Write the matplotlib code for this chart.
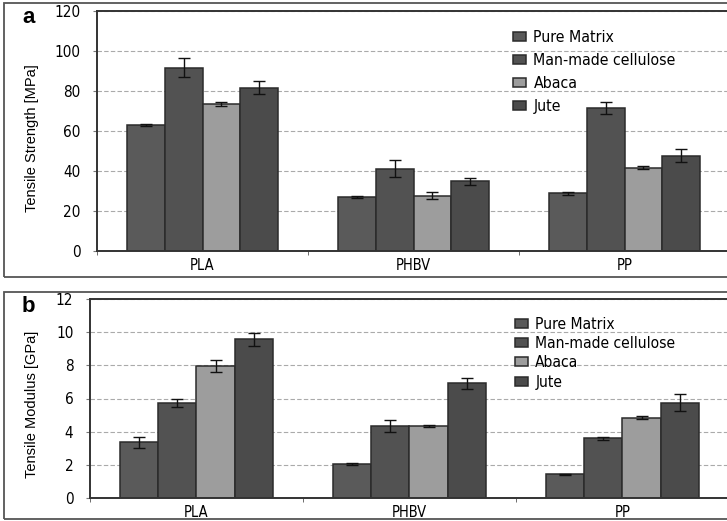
import matplotlib
matplotlib.use("Agg")
import matplotlib.pyplot as plt
from matplotlib import font_manager
import numpy as np
from matplotlib.patches import Rectangle

W, H = 727, 521

materials = ["PLA", "PHBV", "PP"]
series = ["Pure Matrix", "Man-made cellulose", "Abaca", "Jute"]

# tensile strength [MPa], one list per series (PLA, PHBV, PP)
strength_pure = [63.0, 26.8, 28.8]
strength_mmc = [91.6, 41.1, 71.4]
strength_abaca = [73.4, 27.6, 41.5]
strength_jute = [81.6, 34.8, 47.5]
strength_pure_err = [0.5, 0.5, 0.7]
strength_mmc_err = [4.8, 4.3, 2.8]
strength_abaca_err = [1.0, 1.6, 0.7]
strength_jute_err = [3.3, 1.7, 3.3]

# tensile modulus [GPa]
modulus_pure = [3.35, 2.04, 1.42]
modulus_mmc = [5.75, 4.35, 3.60]
modulus_abaca = [7.98, 4.35, 4.85]
modulus_jute = [9.56, 6.93, 5.75]
modulus_pure_err = [0.32, 0.07, 0.05]
modulus_mmc_err = [0.25, 0.37, 0.10]
modulus_abaca_err = [0.37, 0.05, 0.09]
modulus_jute_err = [0.39, 0.33, 0.51]

COLORS = ["#5a5a5a", "#525252", "#9d9d9d", "#4b4b4b"]
EDGE = "#2b2b2b"
WIDE = ["Liberation Sans", "DejaVu Sans"]

# the original uses a condensed sans for ticks and legend; use one if installed
NARROW, STRETCH = WIDE, "normal"
for f in font_manager.fontManager.ttflist:
    if "Narrow" in f.name and "Liberation" in f.name:
        NARROW, STRETCH = [f.name] + WIDE, "normal"
        break
    if f.name == "DejaVu Sans" and f.stretch == "condensed":
        NARROW, STRETCH = ["DejaVu Sans"], "condensed"


def px_axes(fig, left, right, top, bottom):
    return fig.add_axes([left / W, 1 - bottom / H, (right - left) / W, (bottom - top) / H])


def panel(fig, ax, vals, errs, ymax, ystep, ylabel, letter, box, leg_xy, leg_fs, leg_sp):
    x = np.arange(len(materials))
    bw = 0.18
    for i, (v, e) in enumerate(zip(vals, errs)):
        ax.bar(x + (i - 1.5) * bw, v, bw, color=COLORS[i], edgecolor=EDGE, lw=1.1,
               label=series[i], zorder=2)
        ax.errorbar(x + (i - 1.5) * bw, v, yerr=e, fmt="none", ecolor="#111111",
                    elinewidth=1.0, capsize=4, capthick=1.0, zorder=3)
    ax.set_xlim(-0.5, 2.5)
    ax.set_ylim(0, ymax)
    ax.set_yticks(np.arange(0, ymax + 0.1, ystep))
    ax.set_xticks(x)
    ax.set_xticklabels(materials, fontsize=10.5, family=NARROW, fontstretch=STRETCH)
    ax.set_xticks([-0.5, 0.5, 1.5], minor=True)
    ax.tick_params(axis="x", which="major", length=0, pad=5)
    ax.tick_params(axis="x", which="minor", length=3, color="#555555")
    ax.tick_params(axis="y", length=3, color="#777777", pad=9)
    for t in ax.get_yticklabels():
        t.set_fontsize(11)
        t.set_family(NARROW)
        t.set_fontstretch(STRETCH)
    ax.yaxis.grid(True, ls=(0, (4, 2)), color="#aaaaaa", lw=0.8, zorder=0)
    ax.set_axisbelow(True)
    for s in ax.spines.values():
        s.set_color("#333333")
        s.set_linewidth(1.4)
    bb = ax.get_position()
    fig.text(32 / W, bb.y0 + bb.height * 0.47, ylabel, rotation=90, fontsize=10.5,
             family=WIDE, ha="center", va="center")
    ax.legend(loc="upper left", bbox_to_anchor=(leg_xy[0] / W, 1 - leg_xy[1] / H),
              bbox_transform=fig.transFigure, frameon=False,
              prop={"family": NARROW, "size": leg_fs, "stretch": STRETCH},
              handlelength=0.85, handleheight=0.5, handletextpad=0.45,
              labelspacing=leg_sp, borderpad=0, borderaxespad=0)
    fig.text(box[0] + 18 / W, box[1] - 4 / H, letter, fontsize=16, fontweight="bold",
             family=WIDE, va="top", ha="left")


fig = plt.figure(figsize=(W / 100, H / 100), dpi=100)

# outer panel boxes (their right side lies outside the crop, as in the original)
fig.patches.append(Rectangle((4 / W, 1 - 277 / H), 760 / W, 274 / H,
                             transform=fig.transFigure, fill=False,
                             ec="#555555", lw=1.3))
fig.patches.append(Rectangle((4 / W, 1 - 519 / H), 760 / W, 227 / H,
                             transform=fig.transFigure, fill=False,
                             ec="#555555", lw=1.3))

ax1 = px_axes(fig, 97, 730, 11, 250.7)
panel(fig, ax1,
      [strength_pure, strength_mmc, strength_abaca, strength_jute],
      [strength_pure_err, strength_mmc_err, strength_abaca_err, strength_jute_err],
      120, 20, "Tensile Strength [MPa]", "a", (4 / W, 1 - 3 / H),
      (513, 30), 11.3, 0.52)

ax2 = px_axes(fig, 90, 729, 299, 498)
panel(fig, ax2,
      [modulus_pure, modulus_mmc, modulus_abaca, modulus_jute],
      [modulus_pure_err, modulus_mmc_err, modulus_abaca_err, modulus_jute_err],
      12, 2, "Tensile Modulus [GPa]", "b", (4 / W, 1 - 292 / H),
      (515, 317), 11.2, 0.27)

fig.savefig("out.png", dpi=100)
